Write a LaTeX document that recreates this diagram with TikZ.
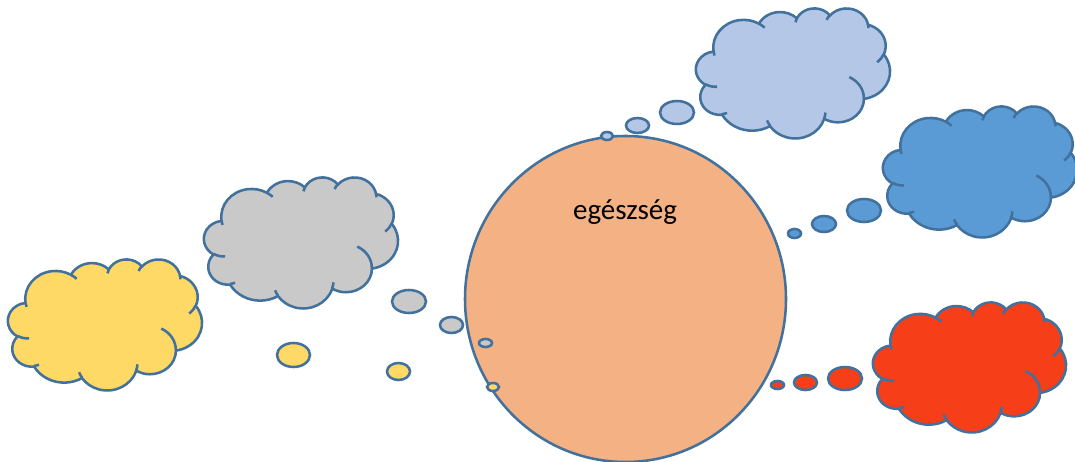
\documentclass[tikz,border=0pt]{standalone}
\usepackage{fontspec}
\setmainfont{Carlito}
\definecolor{healthorange}{RGB}{244,177,131}
\definecolor{cloudyellow}{RGB}{255,217,102}
\definecolor{cloudgray}{RGB}{201,201,201}
\definecolor{cloudlightblue}{RGB}{180,199,231}
\definecolor{cloudblue}{RGB}{91,155,213}
\definecolor{cloudred}{RGB}{246,62,24}
\definecolor{outline}{RGB}{65,113,156}

% angle on the ellipse -> parameter of the arc
\pgfmathdeclarefunction{cpar}{3}{%
  \begingroup
  \pgfmathparse{#3+asin(sin(atan2(#1*sin(#3),#2*cos(#3))-#3))}%
  \pgfmathsmuggle\pgfmathresult
  \endgroup}

% #1 fill, (#2,#3) top left corner, #4 width, #5 height
\newcommand\thoughtcloud[5]{%
  \begin{scope}[shift={(#2,#3)},xscale=#4/43.2,yscale=#5/43.2]
  \filldraw[fill=#1] (3.900,14.370)
    \foreach \rw/\rh/\st/\sw in {6.753/9.190/-190.4875/123.7805,
      5.333/7.267/-144.1024/89.9452, 4.365/5.945/-145.8079/99.7230,
      4.857/6.595/-130.9861/117.2417, 5.333/7.273/-78.7089/109.0269,
      6.775/9.220/-46.2673/130.2690, 5.785/7.867/0.6250/114.0333,
      6.752/9.215/22.4516/115.1726, 7.720/10.543/66.2426/75.7110,
      4.360/5.918/-274.9421/146.7356, 4.345/5.945/-246.8285/152.5189}
    { arc[x radius=\rw,y radius=\rh,start angle={cpar(\rw,\rh,\st)},end angle={cpar(\rw,\rh,\st+\sw)}] }
    -- cycle;
  \foreach \px/\py/\rw/\rh/\st/\sw in {4.693/26.177/4.345/5.945/86.7420/26.4295,
      6.928/34.899/4.360/5.918/73.6105/11.4475,
      16.478/39.090/6.752/9.215/137.6242/14.0811,
      28.827/34.751/6.752/9.215/6.4533/15.9984,
      34.129/22.954/5.785/7.867/-70.2924/70.9174,
      41.798/15.354/5.333/7.273/30.3180/27.7515,
      38.324/5.426/4.857/6.595/-13.7443/14.8589,
      29.078/3.952/4.857/6.595/-149.1815/18.1954,
      22.141/4.720/4.365/5.945/-163.4943/17.6864,
      14.000/5.192/6.753/9.190/-66.7070/12.3194,
      4.127/15.789/6.753/9.190/157.6544/11.8582}
    \draw (\px,\py) arc[x radius=\rw,y radius=\rh,start angle={cpar(\rw,\rh,\st)},end angle={cpar(\rw,\rh,\st+\sw)}];
  \end{scope}}

\begin{document}
\begin{tikzpicture}[x=0.02cm,y=-0.02cm,line width=1.45pt,draw=outline,
  bubble/.style={fill=#1,draw=outline}]
\useasboundingbox (0,0) rectangle (1075,462);

\filldraw[fill=healthorange] (625.5,299) ellipse[x radius=160.5,y radius=163];
\node[font=\fontsize{16.5}{20}\selectfont] (health) at (625,212) {egészség};

\thoughtcloud{cloudyellow}{8}{259}{194}{131}
\thoughtcloud{cloudgray}{204}{177}{194}{131}
\thoughtcloud{cloudlightblue}{696}{8}{194}{130}
\thoughtcloud{cloudblue}{883}{106}{194}{131}
\thoughtcloud{cloudred}{873}{302}{193}{130}

% bubbles
\filldraw[bubble=cloudyellow] (293.5,355) ellipse[x radius=16.5,y radius=12];
\filldraw[bubble=cloudyellow] (398.5,371.5) ellipse[x radius=11.5,y radius=8.5];
\filldraw[bubble=cloudyellow] (493,387) ellipse[x radius=6,y radius=4];

\filldraw[bubble=cloudgray] (409,301.5) ellipse[x radius=17,y radius=11.5];
\filldraw[bubble=cloudgray] (451.5,325) ellipse[x radius=11.5,y radius=8];
\filldraw[bubble=cloudgray] (485.5,343) ellipse[x radius=6.5,y radius=4];

\filldraw[bubble=cloudlightblue] (677,112.5) ellipse[x radius=17,y radius=11.5];
\filldraw[bubble=cloudlightblue] (637.5,125.5) ellipse[x radius=11.5,y radius=7.5];
\filldraw[bubble=cloudlightblue] (607,136) ellipse[x radius=6,y radius=4];

\filldraw[bubble=cloudblue] (864,210.5) ellipse[x radius=17,y radius=11.5];
\filldraw[bubble=cloudblue] (824,224) ellipse[x radius=12,y radius=8];
\filldraw[bubble=cloudblue] (794.5,233.5) ellipse[x radius=6.5,y radius=4.5];

\filldraw[bubble=cloudred] (845,378.5) ellipse[x radius=17,y radius=11.5];
\filldraw[bubble=cloudred] (805.5,382.5) ellipse[x radius=11.5,y radius=7.5];
\filldraw[bubble=cloudred] (777.5,385) ellipse[x radius=6.5,y radius=4];
\end{tikzpicture}
\end{document}
